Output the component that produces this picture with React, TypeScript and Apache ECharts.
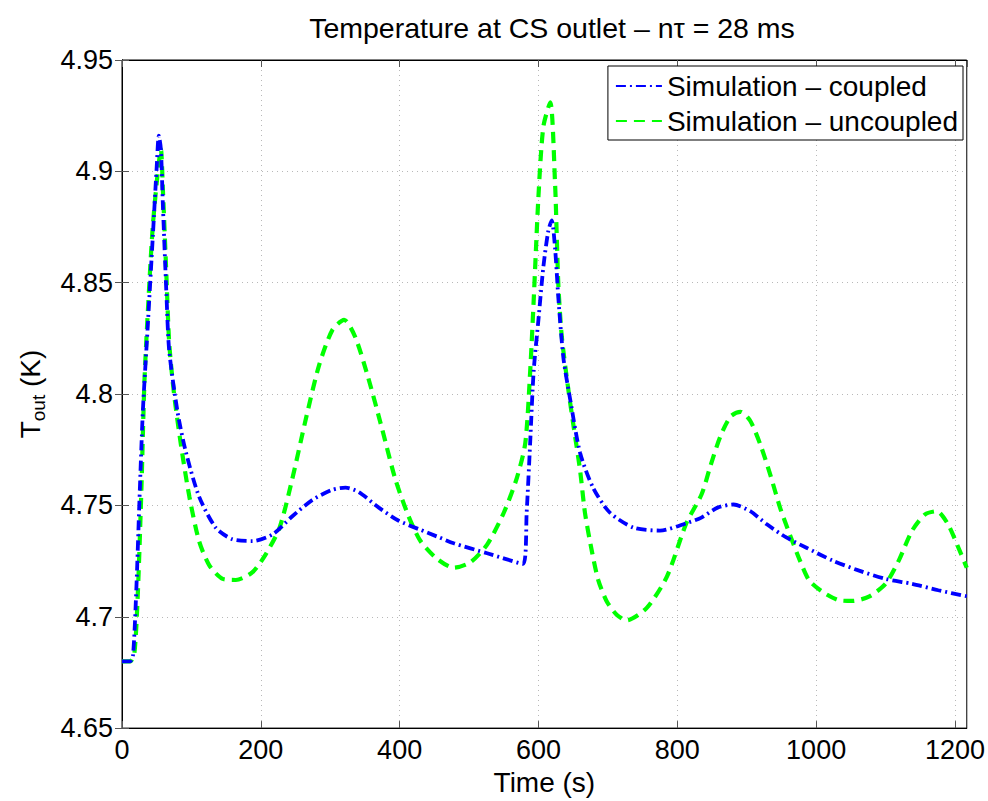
import React, { useEffect, useRef } from "react";
import * as echarts from "echarts";

const titleText = "Temperature at CS outlet – nτ = 28 ms";
const seriesNames = ["Simulation – coupled", "Simulation – uncoupled"];

const coupledTime = [0, 12, 16, 20.6, 25, 30, 37, 44.5, 50, 53, 56, 59, 64, 68, 80, 92, 111, 135, 159, 188, 217, 245, 274, 303, 322, 341, 370, 398, 427, 454, 478, 526, 578, 583, 588, 593, 600, 607, 614, 619, 624, 629, 636, 646, 660, 679, 703, 737, 775, 813, 834, 858, 881, 905, 929, 957, 986, 1024, 1062, 1100, 1138, 1176, 1217];
const coupledTemp = [4.68, 4.68, 4.683, 4.712, 4.751, 4.792, 4.83, 4.8714, 4.902, 4.916, 4.91, 4.884, 4.845, 4.8195, 4.792, 4.774, 4.754, 4.74, 4.7348, 4.734, 4.737, 4.745, 4.7524, 4.757, 4.758, 4.756, 4.749, 4.7432, 4.7394, 4.736, 4.733, 4.7285, 4.7237, 4.747, 4.778, 4.81, 4.8336, 4.857, 4.873, 4.878, 4.865, 4.8415, 4.816, 4.797, 4.7735, 4.7577, 4.7467, 4.74, 4.7387, 4.742, 4.7444, 4.749, 4.7504, 4.7474, 4.7415, 4.7356, 4.731, 4.7252, 4.7207, 4.717, 4.7148, 4.7119, 4.7092];

const uncoupledTime = [0, 12, 18, 23, 28, 32.5, 40, 44.5, 51.7, 56, 59, 64, 68, 75, 85, 97, 111, 126, 145, 164, 188, 207, 227, 245, 265, 284, 303, 320, 336, 355, 375, 394, 413, 430, 454, 478, 502, 526, 550, 569, 581, 588, 593, 600, 607, 617, 624, 626.4, 628.8, 633.6, 643, 651, 660, 667, 677, 686, 698, 713, 727, 756, 785, 813, 835, 848, 862, 877, 891, 905, 920, 934, 948, 962, 977, 990, 1010, 1033, 1052, 1076, 1100, 1119, 1138, 1157, 1174, 1190, 1205, 1217];
const uncoupledTemp = [4.68, 4.68, 4.684, 4.712, 4.758, 4.807, 4.853, 4.876, 4.9, 4.91, 4.891, 4.853, 4.823, 4.8, 4.777, 4.754, 4.734, 4.723, 4.717, 4.7165, 4.72, 4.728, 4.74, 4.7615, 4.789, 4.813, 4.8287, 4.8333, 4.8256, 4.807, 4.784, 4.7615, 4.745, 4.734, 4.726, 4.722, 4.7245, 4.7324, 4.7467, 4.7625, 4.778, 4.81, 4.8415, 4.889, 4.92, 4.931, 4.8937, 4.87, 4.8478, 4.8257, 4.802, 4.7846, 4.7656, 4.7466, 4.7293, 4.7166, 4.7071, 4.7008, 4.6984, 4.704, 4.718, 4.742, 4.755, 4.768, 4.781, 4.79, 4.792, 4.788, 4.777, 4.7637, 4.749, 4.737, 4.725, 4.7163, 4.711, 4.7074, 4.7071, 4.709, 4.7148, 4.7252, 4.7385, 4.746, 4.7474, 4.7415, 4.731, 4.722];

const xMin = 0;
const xMax = 1217;
const xInterval = 200;
const yMin = 4.65;
const yMax = 4.95;
const yInterval = 0.05;

const FONT = "'Liberation Sans', Arial, Helvetica, sans-serif";

export default function App() {
  const ref = useRef<HTMLDivElement>(null);
  useEffect(() => {
    if (!ref.current) return;
    const chart = echarts.init(ref.current, undefined, { renderer: "svg" });
    const zip = (t: number[], v: number[]) => t.map((x, i) => [x, v[i]]);
    const gridLine = { show: true, lineStyle: { color: "#b8b8b8", type: [1, 4] as any, width: 1 } };
    const tick = { show: true, inside: true, length: 7, lineStyle: { color: "#555" } };
    const axLine = { show: true, lineStyle: { color: "#000", width: 1 } };
    const baseX = { type: "value" as const, min: xMin, max: xMax, interval: xInterval };
    const baseY = { type: "value" as const, min: yMin, max: yMax, interval: yInterval };
    chart.setOption({
      animation: false,
      textStyle: { fontFamily: FONT },
      title: {
        text: titleText,
        left: 547,
        textAlign: "center",
        top: 8,
        textStyle: { fontSize: 28.5, fontWeight: "normal", color: "#000", fontFamily: FONT },
      },
      grid: {
        left: 122,
        right: 20,
        top: 60,
        bottom: 65,
        show: true,
        borderColor: "#000",
        borderWidth: 1,
        backgroundColor: "#fff",
      },
      legend: {
        orient: "vertical",
        right: 25,
        top: 66,
        itemWidth: 46,
        itemHeight: 14,
        itemGap: 7,
        padding: [6, 5, 5, 7],
        borderColor: "#000",
        borderWidth: 1,
        backgroundColor: "#fff",
        itemStyle: { opacity: 0 },
        textStyle: { fontSize: 28, color: "#000", fontFamily: FONT },
        data: seriesNames,
      },
      xAxis: [
        {
          ...baseX,
          position: "bottom",
          name: "Time (s)",
          nameLocation: "middle",
          nameGap: 37,
          nameTextStyle: { fontSize: 28, color: "#000", fontFamily: FONT },
          axisLine: axLine,
          axisTick: tick,
          axisLabel: {
            fontSize: 27,
            color: "#000",
            margin: 8,
            showMaxLabel: false,
            formatter: (v: number) => String(v),
          },
          splitLine: gridLine,
        },
        {
          ...baseX,
          position: "top",
          axisLine: axLine,
          axisTick: tick,
          axisLabel: { show: false },
          splitLine: { show: false },
        },
      ],
      yAxis: [
        {
          ...baseY,
          position: "left",
          name: "{t|T}{s|out}{t| (K)}",
          nameLocation: "middle",
          nameRotate: 90,
          nameGap: 74,
          nameTextStyle: {
            color: "#000",
            rich: {
              t: { fontSize: 28, color: "#000", fontFamily: FONT, lineHeight: 36 },
              s: { fontSize: 19, color: "#000", fontFamily: FONT, verticalAlign: "bottom", lineHeight: 26 },
            },
          },
          axisLine: axLine,
          axisTick: tick,
          axisLabel: { fontSize: 27, color: "#000", margin: 9 },
          splitLine: gridLine,
        },
        {
          ...baseY,
          position: "right",
          axisLine: axLine,
          axisTick: tick,
          axisLabel: { show: false },
          splitLine: { show: false },
        },
      ],
      series: [
        {
          name: seriesNames[0],
          type: "line",
          xAxisIndex: 0,
          yAxisIndex: 0,
          data: zip(coupledTime, coupledTemp),
          symbol: "none",
          smooth: 0.25,
          color: "#0000ff",
          lineStyle: { color: "#0000ff", width: 3.8, type: [10, 4, 2, 4] },
          z: 3,
        },
        {
          name: seriesNames[1],
          type: "line",
          xAxisIndex: 0,
          yAxisIndex: 0,
          data: zip(uncoupledTime, uncoupledTemp),
          symbol: "none",
          smooth: 0.25,
          color: "#00ff00",
          lineStyle: { color: "#00ff00", width: 4.2, type: [11, 7] },
          z: 2,
        },
      ],
    });
    return () => chart.dispose();
  }, []);
  return (
    <div
      ref={ref}
      style={{ position: "absolute", left: 0, top: 0, width: 988, height: 801 }}
    />
  );
}
